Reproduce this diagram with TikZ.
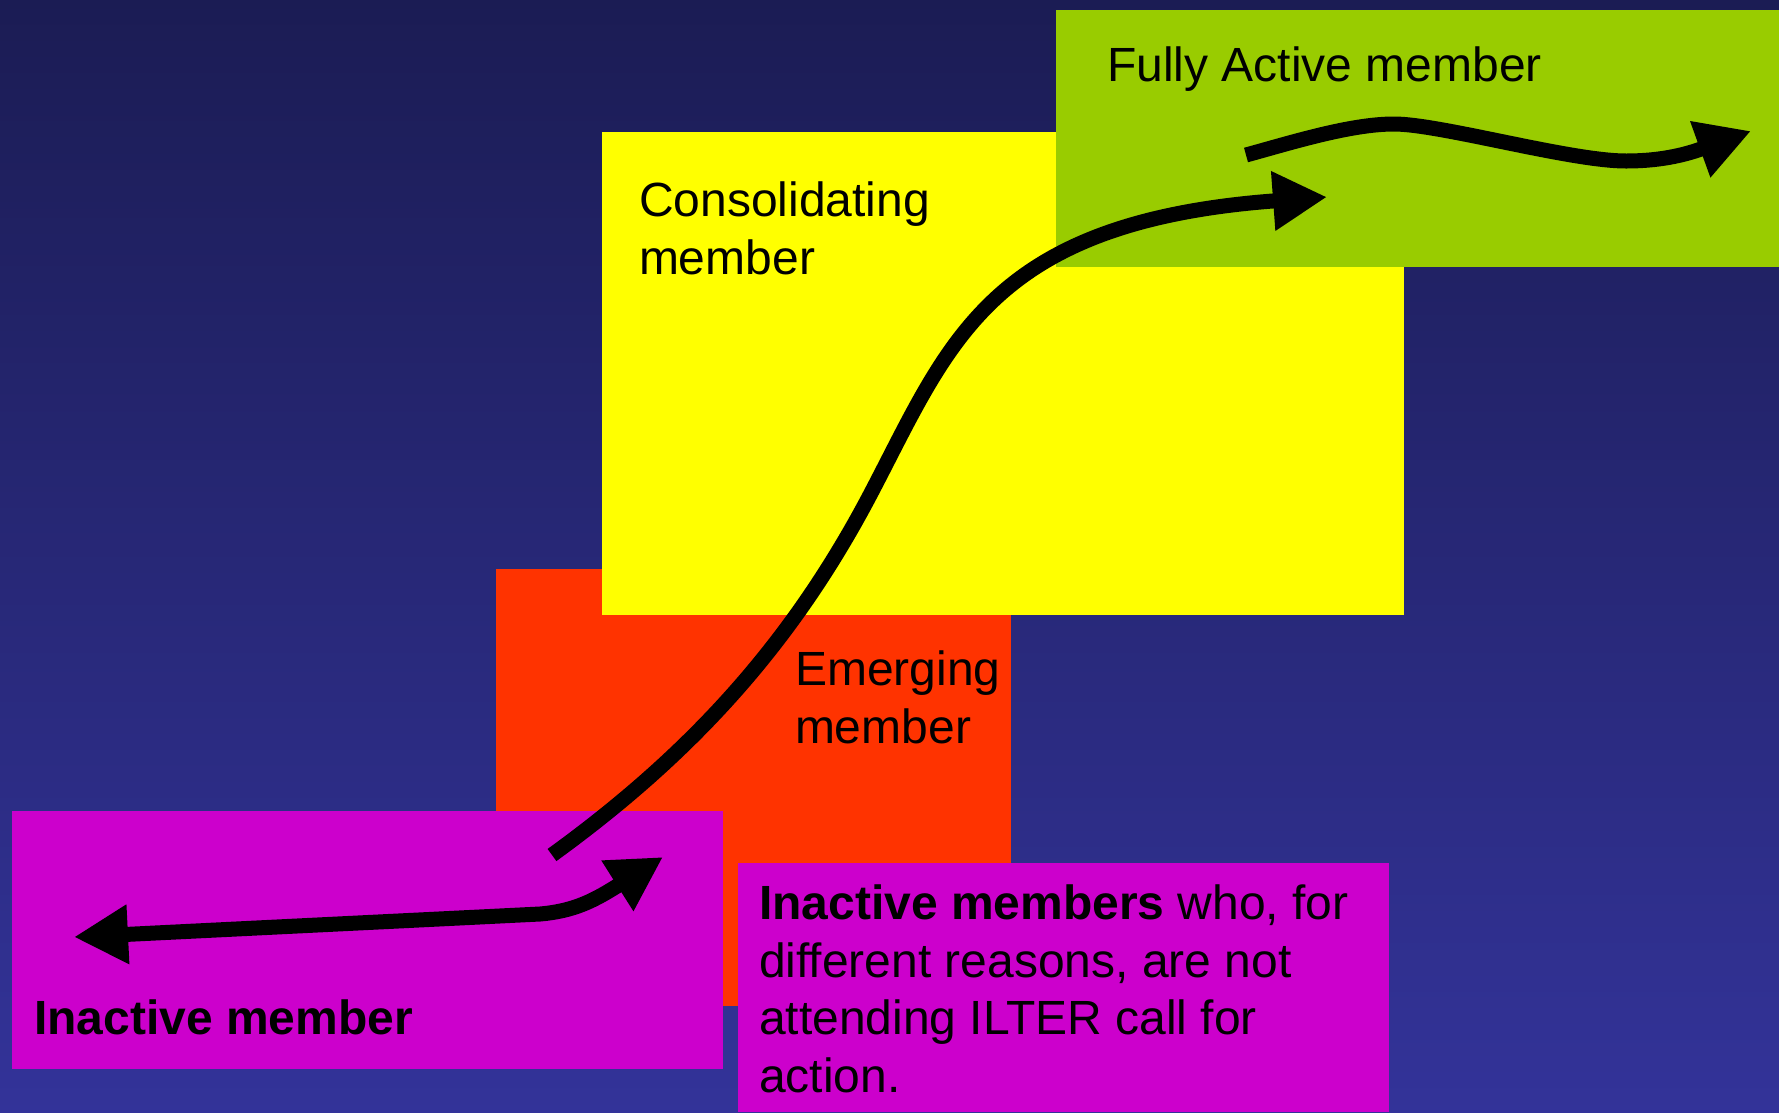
\documentclass[tikz,border=0pt]{standalone}
\usepackage{fontspec}
\setmainfont{Liberation Sans}
\usetikzlibrary{arrows.meta}
\definecolor{bgtop}{RGB}{27,28,84}
\definecolor{bgbot}{RGB}{51,51,153}
\definecolor{cyel}{RGB}{255,255,0}
\definecolor{cred}{RGB}{255,51,0}
\definecolor{cgrn}{RGB}{153,204,0}
\definecolor{cmag}{RGB}{204,0,204}
\begin{document}
\begin{tikzpicture}[x=1pt,y=-1pt,
  box/.style={draw=none, inner sep=0pt, outer sep=0pt, anchor=north west},
  lbl/.style={font=\fontsize{48}{57.5}\selectfont, inner sep=0pt, outer sep=0pt, anchor=base west, align=left, text=black},
  flow/.style={line width=15pt, draw=black, -{Triangle[length=54pt,width=56pt]}}]
\useasboundingbox (0,0) rectangle (1779,1112);
\shade[top color=bgtop, bottom color=bgbot] (0,0) rectangle (1779,1112);
% boxes
\node[box, fill=cred, minimum width=515pt, minimum height=437pt] (red) at (496,569) {};
\node[box, fill=cyel, minimum width=802pt, minimum height=483pt] (yellow) at (602,132) {};
\node[box, fill=cgrn, minimum width=723pt, minimum height=257pt] (green) at (1056,10) {};
\node[box, fill=cmag, minimum width=711pt, minimum height=258pt] (inact) at (12,811) {};
\node[box, fill=cmag, minimum width=651pt, minimum height=249pt] (note) at (738,863) {};
% labels (anchor = baseline of the last line)
\node[lbl] (tfull) at (1107,81) {Fully Active member};
\node[lbl] (tcons) at (639,274) {Consolidating\\member};
\node[lbl] (temer) at (795,743) {Emerging\\member};
\node[lbl] (tinact) at (34,1034) {\bfseries Inactive member};
\node[lbl] (tnote) at (759,1092) {{\bfseries Inactive members} who, for\\different reasons, are not\\attending ILTER call for\\action.};
% main S-curve
\coordinate (m0) at (552,855);
\coordinate (mm) at (870,495);
\coordinate (mt) at (1327,197);
\draw[flow] (m0) .. controls (690,755) and (791,645) .. (mm)
  .. controls (949,345) and (987,222) .. (mt);
% wavy arrow
\coordinate (w0) at (1246,155);
\coordinate (w1) at (1394,124);
\coordinate (w2) at (1626,161);
\coordinate (w3) at (1751,131);
\draw[flow] (w0) .. controls (1290,143) and (1350,124) .. (w1)
  .. controls (1440,124) and (1570,161) .. (w2)
  .. controls (1665,161) and (1690,153) .. (w3);
% double arrow
\coordinate (b0) at (74,937);
\coordinate (b1) at (540,914);
\coordinate (b4) at (663,857);
\draw[line width=15pt, draw=black, {Triangle[length=54pt,width=56pt]}-{Triangle[length=54pt,width=56pt]}]
  (b0) -- (b1) .. controls (575,911) and (595,900) .. (b4);
\end{tikzpicture}
\end{document}
